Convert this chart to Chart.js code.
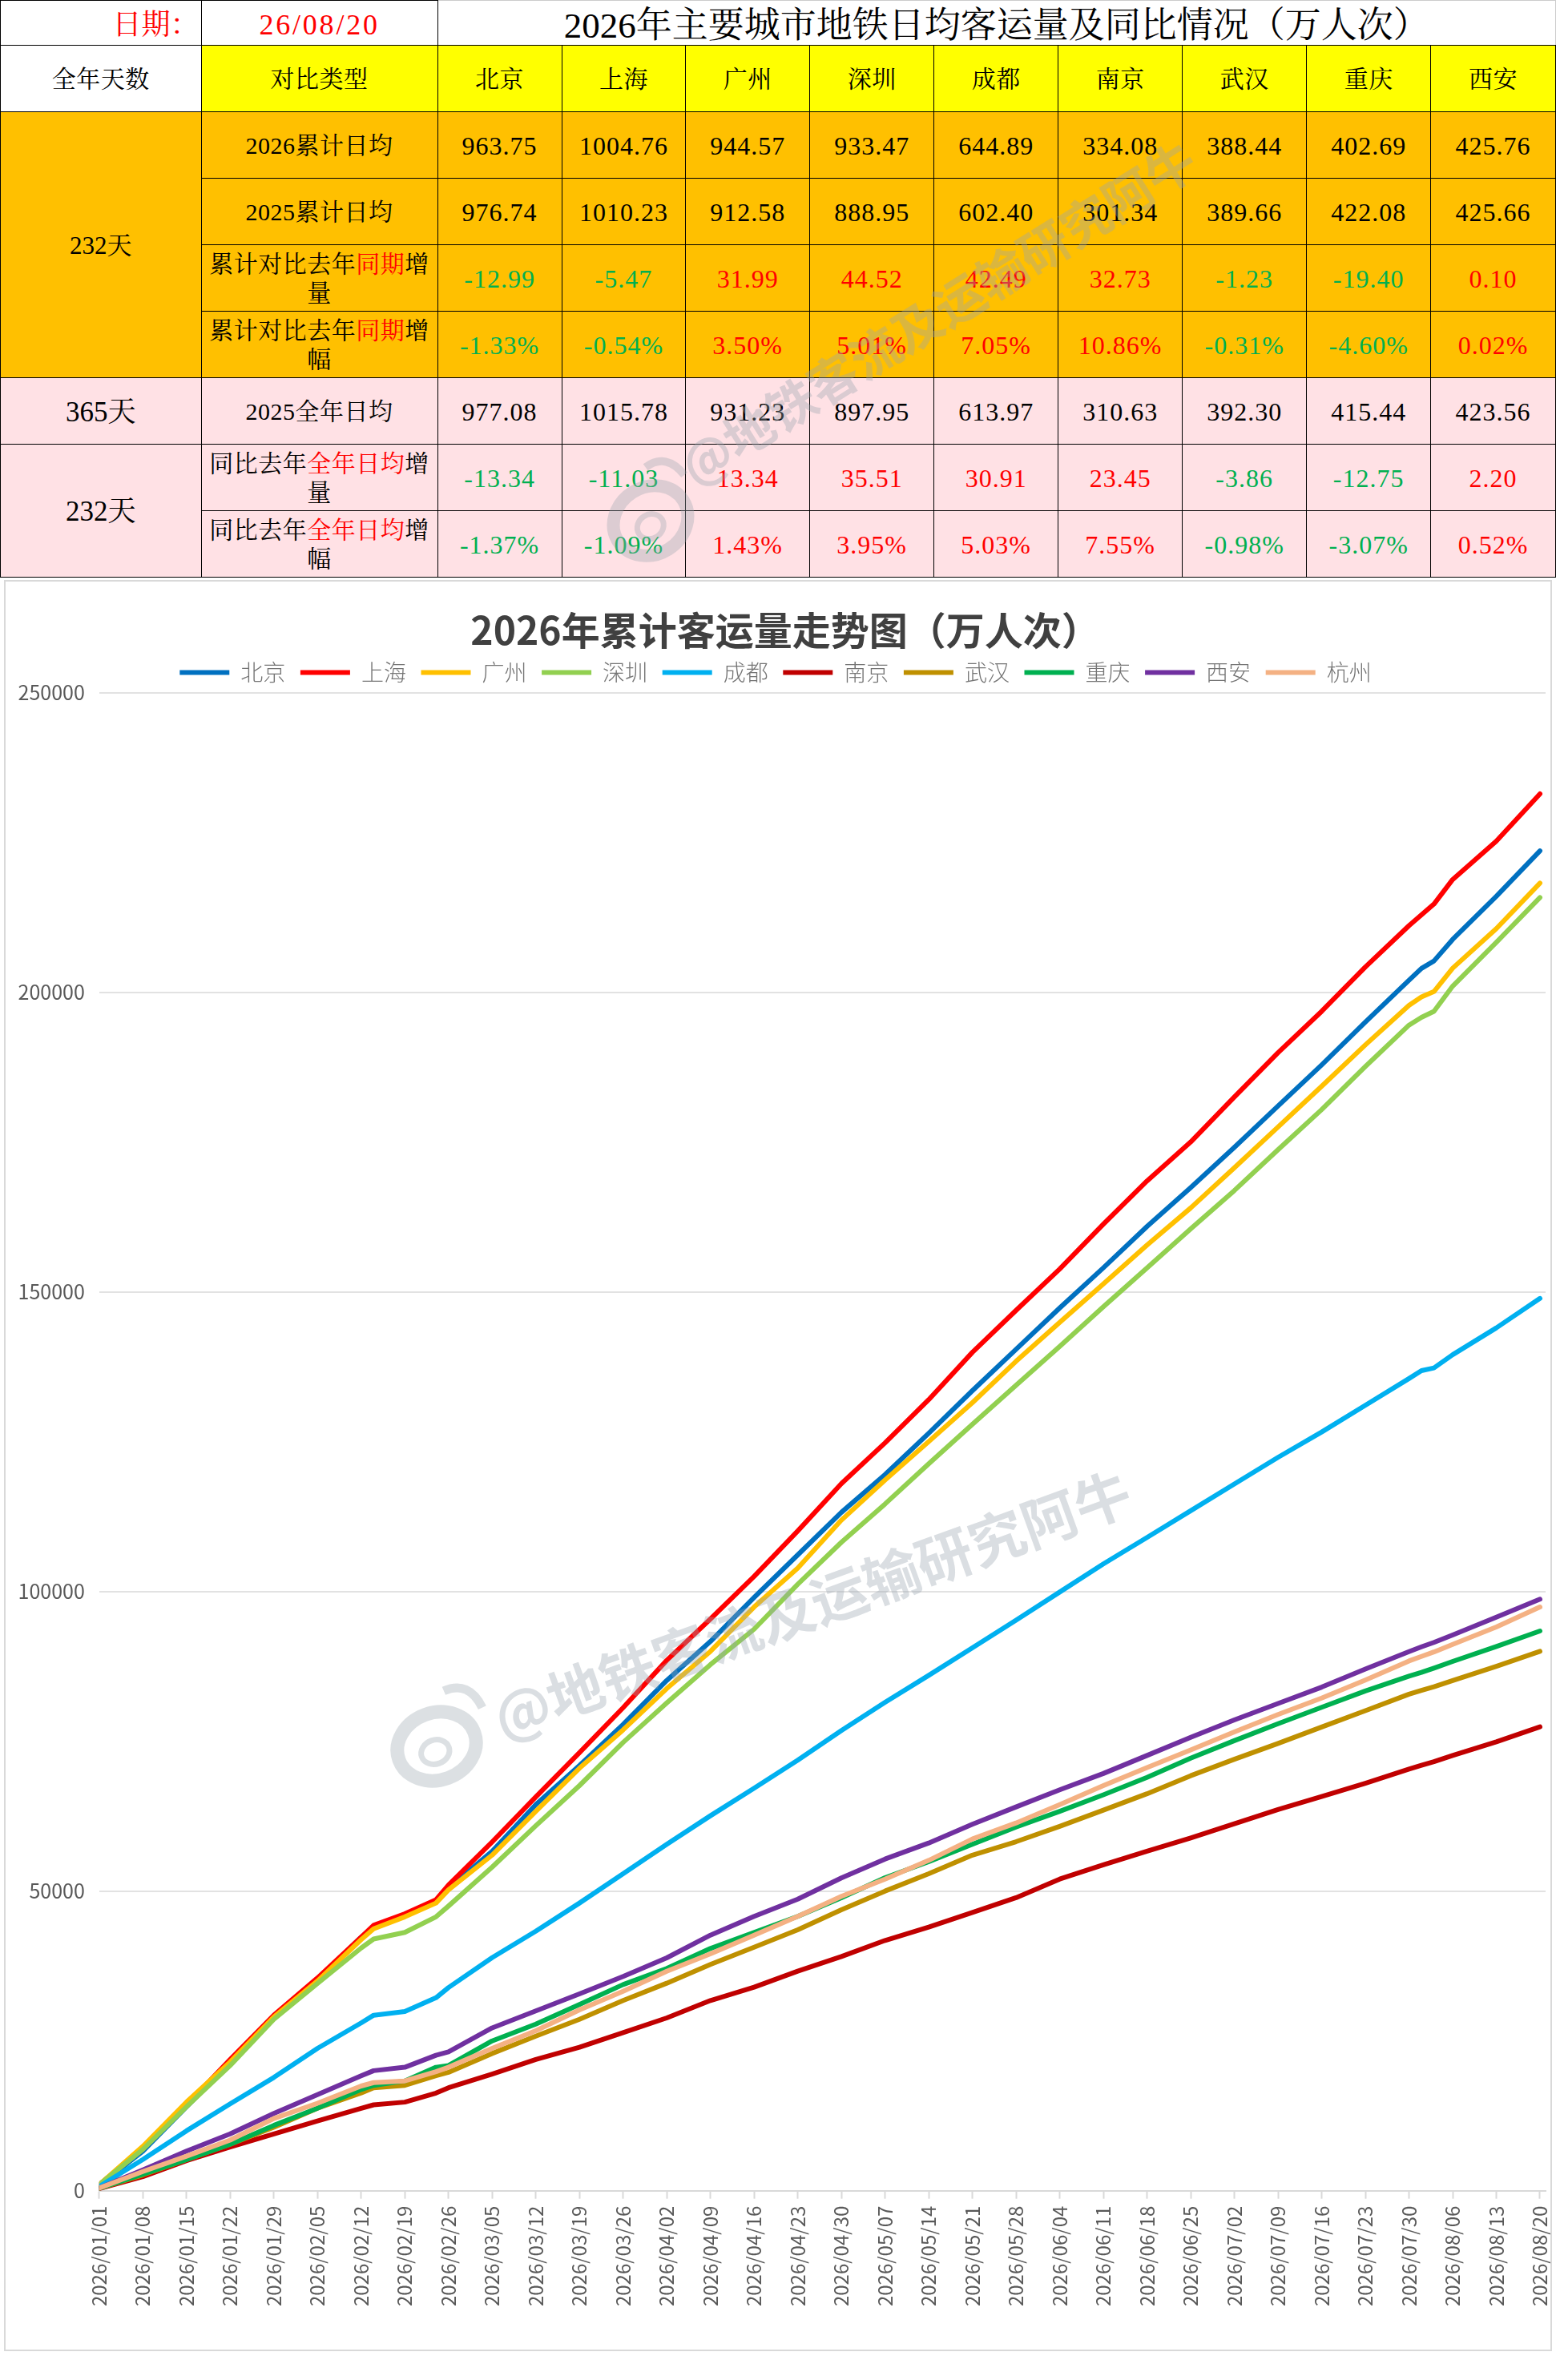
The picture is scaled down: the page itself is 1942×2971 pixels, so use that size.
<!DOCTYPE html>
<html lang="zh">
<head>
<meta charset="utf-8">
<title>2026年主要城市地铁日均客运量</title>
<script src="https://cdn.jsdelivr.net/npm/chart.js@4"></script>
<style>
  html, body { margin: 0; padding: 0; background: #fff; }
  body { position: relative; width: 1942px; height: 2971px; overflow: hidden; }
  table { position: absolute; left: 0; top: 0; width: 1941px; table-layout: fixed; border-collapse: collapse;
          font-family: "Liberation Serif", "Noto Serif CJK SC", "Noto Sans CJK SC", serif; color: #000; }
  td { border: 1.5px solid #000; padding: 2px 0 0; text-align: center; vertical-align: middle; overflow: hidden; line-height: 1; }
  .num { font-size: 32px; letter-spacing: 1px; }
  .lab { font-size: 30px; line-height: 36px; padding: 2px 8px 0; letter-spacing: .5px; }
  .org { background: #FFC000; }
  .pnk { background: #FFE1E5; }
  .yel { background: #FFFF00; }
  .red { color: #FF0000; }
  .grn { color: #00B050; }
  #frame { position: absolute; left: 5px; top: 724px; width: 1928px; height: 2207px; border: 2px solid #d9d9d9; }
  #chart { display: block; }
  #mark { position: absolute; left: 0; top: 0; pointer-events: none; }
</style>
</head>
<body>
<table id="tbl"></table>
<div id="frame"><canvas id="chart" width="1928" height="2207"></canvas></div>
<svg id="mark" width="1942" height="2971">
  <g fill="none" stroke="#98a4ae" stroke-opacity=".34">
    <g transform="translate(812,650) rotate(-32)">
      <ellipse rx="48" ry="42" stroke-width="16"/><ellipse cx="-4" cy="6" rx="17" ry="15" stroke-width="7"/>
      <path d="M30,-60 Q62,-62 66,-26" stroke-width="10"/>
    </g>
    <g transform="translate(545,2180) rotate(-20)">
      <ellipse rx="50" ry="42" stroke-width="17"/><ellipse cx="-4" cy="6" rx="18" ry="15" stroke-width="7"/>
      <path d="M32,-62 Q66,-64 70,-26" stroke-width="11"/>
    </g>
  </g>
  <g font-family="Noto Sans CJK SC" font-weight="700" fill="#98a4ae" fill-opacity=".36">
    <text transform="translate(868,608) rotate(-32)" font-size="62">@地铁客流及运输研究阿牛</text>
    <text transform="translate(628,2172) rotate(-20)" font-size="70">@地铁客流及运输研究阿牛</text>
  </g>
</svg>

<script>
// table
const cities = ['北京', '上海', '广州', '深圳', '成都', '南京', '武汉', '重庆', '西安'];
const avg2026 = ['963.75', '1004.76', '944.57', '933.47', '644.89', '334.08', '388.44', '402.69', '425.76'];
const avg2025 = ['976.74', '1010.23', '912.58', '888.95', '602.40', '301.34', '389.66', '422.08', '425.66'];
const diffSame = ['-12.99', '-5.47', '31.99', '44.52', '42.49', '32.73', '-1.23', '-19.40', '0.10'];
const pctSame = ['-1.33%', '-0.54%', '3.50%', '5.01%', '7.05%', '10.86%', '-0.31%', '-4.60%', '0.02%'];
const avgYear = ['977.08', '1015.78', '931.23', '897.95', '613.97', '310.63', '392.30', '415.44', '423.56'];
const diffYear = ['-13.34', '-11.03', '13.34', '35.51', '30.91', '23.45', '-3.86', '-12.75', '2.20'];
const pctYear = ['-1.37%', '-1.09%', '1.43%', '3.95%', '5.03%', '7.55%', '-0.98%', '-3.07%', '0.52%'];

// chart: cumulative ridership read off at the weekly ticks, plus the bends
// around the Spring Festival (days 44, 54) and at the start of August (212, 214)
const tickLabels = ['2026/01/01', '2026/01/08', '2026/01/15', '2026/01/22', '2026/01/29', '2026/02/05', '2026/02/12',
  '2026/02/19', '2026/02/26', '2026/03/05', '2026/03/12', '2026/03/19', '2026/03/26', '2026/04/02', '2026/04/09',
  '2026/04/16', '2026/04/23', '2026/04/30', '2026/05/07', '2026/05/14', '2026/05/21', '2026/05/28', '2026/06/04',
  '2026/06/11', '2026/06/18', '2026/06/25', '2026/07/02', '2026/07/09', '2026/07/16', '2026/07/23', '2026/07/30',
  '2026/08/06', '2026/08/13', '2026/08/20'];
const dayIndex = [0, 7, 14, 21, 28, 35, 42, 44, 49, 54, 56, 63, 70, 77, 84, 91, 98, 105, 112, 119, 126, 133, 140, 147, 154, 161, 168, 175, 182, 189, 196, 203, 210, 212, 214, 217, 224, 231];
const beijing = [900, 6600, 14000, 21300, 28900, 35200, 42300, 44000, 45900, 48300, 50500, 56640, 64430, 70940, 77800, 85150, 91650, 99000, 106100, 113200, 119500, 126400, 133500, 140400, 147300, 154000, 160900, 167400, 174100, 181000, 187850, 195000, 202000, 203970, 205200, 208800, 216000, 223590];
const shanghai = [1000, 7100, 14300, 21900, 29300, 35500, 42300, 44300, 46200, 48570, 51000, 58200, 65700, 73100, 80600, 88500, 95400, 102500, 110100, 118000, 124800, 132000, 139900, 146900, 153800, 161300, 168500, 175000, 182500, 189900, 196800, 204200, 211100, 212900, 214700, 218800, 225200, 233100];
const guangzhou = [1000, 7400, 14800, 21500, 29000, 35000, 41900, 43700, 45700, 48000, 50200, 56000, 63300, 70500, 76900, 83800, 90000, 97400, 103900, 111900, 118600, 125000, 131500, 138400, 144900, 151300, 157800, 164000, 170700, 177500, 184300, 191200, 197800, 199200, 200100, 204000, 210600, 218200];
const shenzhen = [1000, 6900, 14000, 20900, 28600, 34600, 40500, 42000, 43100, 45700, 47500, 54000, 60900, 67600, 74800, 81400, 87800, 93700, 101200, 108200, 114600, 121300, 127900, 134400, 140900, 147500, 154000, 160500, 166900, 173700, 180400, 187600, 194500, 195800, 196800, 201000, 208300, 215800];
const chengdu = [700, 5200, 10000, 14500, 18900, 23750, 28000, 29280, 29900, 32200, 33900, 38900, 43300, 48000, 52900, 57800, 62570, 67160, 71840, 76800, 81500, 86000, 90600, 95200, 99900, 104600, 109000, 113460, 117920, 122370, 126600, 131060, 135520, 136850, 137300, 139500, 143980, 148900];
const nanjing = [350, 2340, 5020, 7300, 9480, 11640, 13760, 14330, 14780, 16300, 17180, 19460, 21900, 23930, 26380, 28830, 31730, 33960, 36630, 39080, 41760, 43980, 46430, 48890, 52000, 54380, 56660, 58860, 61220, 63600, 65780, 67980, 70350, 71000, 71600, 72630, 74900, 77400];
const wuhan = [400, 2630, 5200, 7760, 10600, 13760, 16320, 17180, 17580, 19180, 19750, 22900, 25800, 28610, 31730, 34630, 37750, 40640, 43540, 46880, 50000, 52900, 56000, 58240, 60800, 63500, 66240, 69250, 71990, 74630, 77370, 80100, 82850, 83500, 84100, 85130, 87500, 90000];
const chongqing = [400, 2740, 5200, 7760, 10900, 13760, 16900, 17580, 18320, 20600, 20900, 25000, 27800, 31060, 34400, 37080, 40420, 43100, 45770, 48890, 52230, 54900, 57800, 60700, 63300, 66060, 68980, 72170, 75100, 77920, 80660, 83390, 85860, 86500, 87200, 88320, 90800, 93400];
const xian = [450, 3480, 6620, 9475, 12900, 16040, 19180, 20030, 20600, 22600, 23170, 27170, 30000, 32840, 35740, 38860, 42650, 45770, 48660, 52200, 55350, 58020, 61140, 64040, 66900, 69620, 72630, 75640, 78560, 81300, 84030, 87040, 89960, 90750, 91500, 92720, 95710, 98700];
const hangzhou = [450, 3200, 5760, 8450, 12040, 14600, 17470, 18040, 18320, 19860, 20600, 23750, 26700, 30170, 33290, 36630, 39530, 42650, 45770, 49110, 52000, 55120, 58690, 61360, 64420, 67600, 70620, 73540, 76550, 79470, 82200, 85220, 88400, 89150, 89900, 91150, 94070, 97400];

const redWord = (a, b, c) => a + '<span class="red">' + b + '</span>' + c;
const numCells = (vals, cls, signed) => vals.map(v => {
  const col = signed ? (v[0] === '-' ? ' grn' : ' red') : '';
  return '<td class="num ' + cls + col + '">' + v + '</td>';
}).join('');

const colWidths = [250.6, 295, 155, 154.6, 155, 155, 155, 155, 155, 155, 155.8];
let html = '<colgroup>' + colWidths.map(w => '<col style="width:' + w + 'px">').join('') + '</colgroup>';
html += '<tr style="height:56px"><td class="red" style="font-size:36px;text-align:right;padding:4px 2px 0 0">日期：</td>'
  + '<td class="red" style="font-size:36px;letter-spacing:2.8px;padding-top:4px">26/08/20</td>'
  + '<td colspan="9" style="font-size:45px;padding:8px 0 0 0;border-top-color:#ccc;border-right-color:#ccc">2026年主要城市地铁日均客运量及同比情况（万人次）</td></tr>';
html += '<tr style="height:83px"><td class="lab">全年天数</td><td class="lab yel">对比类型</td>'
  + cities.map(c => '<td class="lab yel">' + c + '</td>').join('') + '</tr>';
html += '<tr style="height:83px"><td class="org" rowspan="4" style="font-size:31px">232天</td><td class="lab org">2026累计日均</td>' + numCells(avg2026, 'org') + '</tr>';
html += '<tr style="height:83px"><td class="lab org">2025累计日均</td>' + numCells(avg2025, 'org') + '</tr>';
html += '<tr style="height:83px"><td class="lab org">' + redWord('累计对比去年', '同期', '增量') + '</td>' + numCells(diffSame, 'org', true) + '</tr>';
html += '<tr style="height:83px"><td class="lab org">' + redWord('累计对比去年', '同期', '增幅') + '</td>' + numCells(pctSame, 'org', true) + '</tr>';
html += '<tr style="height:83px"><td class="pnk" style="font-size:35px">365天</td><td class="lab pnk">2025全年日均</td>' + numCells(avgYear, 'pnk') + '</tr>';
html += '<tr style="height:83px"><td class="pnk" rowspan="2" style="font-size:35px">232天</td><td class="lab pnk">' + redWord('同比去年', '全年日均', '增量') + '</td>' + numCells(diffYear, 'pnk', true) + '</tr>';
html += '<tr style="height:83px"><td class="lab pnk">' + redWord('同比去年', '全年日均', '增幅') + '</td>' + numCells(pctYear, 'pnk', true) + '</tr>';
document.getElementById('tbl').innerHTML = html;

const series = [
  ['北京', beijing, '#0070C0'],
  ['上海', shanghai, '#FF0000'],
  ['广州', guangzhou, '#FFC000'],
  ['深圳', shenzhen, '#92D050'],
  ['成都', chengdu, '#00B0F0'],
  ['南京', nanjing, '#C00000'],
  ['武汉', wuhan, '#BF9000'],
  ['重庆', chongqing, '#00B050'],
  ['西安', xian, '#7030A0'],
  ['杭州', hangzhou, '#F4B183'],
];

// the legend box is taller than the reference leaves room for, so cut it down
const tightLegend = {
  id: 'tightLegend',
  beforeLayout(chart) {
    const lg = chart.legend;
    if (lg && !lg._tight) {
      const fit = lg.fit.bind(lg);
      lg.fit = () => { fit(); lg.height = 57.7; };
      lg._tight = true;
    }
  }
};

const fontFam = '"Noto Sans CJK SC", "Noto Sans", sans-serif';

new Chart(document.getElementById('chart'), {
  type: 'line',
  plugins: [tightLegend],
  data: {
    labels: dayIndex,
    datasets: series.map((s, i) => ({
      label: s[0],
      data: s[1],
      borderColor: s[2],
      backgroundColor: s[2],
      borderWidth: 6,
      borderCapStyle: 'round',
      borderJoinStyle: 'round',
      pointRadius: 0,
      tension: 0,
      order: series.length - i,   // later series paint on top, like the original
    })),
  },
  options: {
    responsive: false,
    animation: false,
    devicePixelRatio: 1,
    layout: { padding: { right: 6 } },
    plugins: {
      tooltip: { enabled: false },
      title: {
        display: true,
        text: '\u20022026年累计客运量走势图（万人次）',
        color: '#404040',
        font: { family: fontFam, size: 48, weight: 'bold', lineHeight: 0.85 },
        padding: { top: 40, bottom: 0 },
      },
      legend: {
        position: 'top',
        labels: {
          usePointStyle: true,
          pointStyle: 'line',
          pointStyleWidth: 62,
          padding: 18.6,
          color: '#757575',
          font: { family: fontFam, size: 28, weight: 300 },
          sort: (a, b) => a.datasetIndex - b.datasetIndex,
        },
      },
    },
    scales: {
      x: {
        type: 'linear',
        min: 0,
        max: 231.9,
        afterFit: s => { s.height = 198.3; s.paddingRight = 0; s.paddingLeft = 0; },
        grid: { drawOnChartArea: false, drawTicks: true, tickLength: 10, tickColor: '#d9d9d9', tickWidth: 2 },
        border: { color: '#d9d9d9', width: 2 },
        ticks: {
          stepSize: 7,
          includeBounds: false,
          autoSkip: false,
          maxRotation: 90,
          minRotation: 90,
          padding: 9,
          color: '#595959',
          font: { family: fontFam, size: 24 },
          callback: v => tickLabels[v / 7],
        },
      },
      y: {
        min: 0,
        max: 250000,
        afterFit: s => { s.width = 116.8; s.paddingTop = 0; s.paddingBottom = 0; },
        grid: { color: '#e2e2e2', lineWidth: 2, drawTicks: false },
        border: { display: false },
        ticks: {
          stepSize: 50000,
          padding: 18,
          color: '#595959',
          font: { family: fontFam, size: 25 },
          callback: v => String(v),
        },
      },
    },
  },
});
</script>
</body>
</html>
